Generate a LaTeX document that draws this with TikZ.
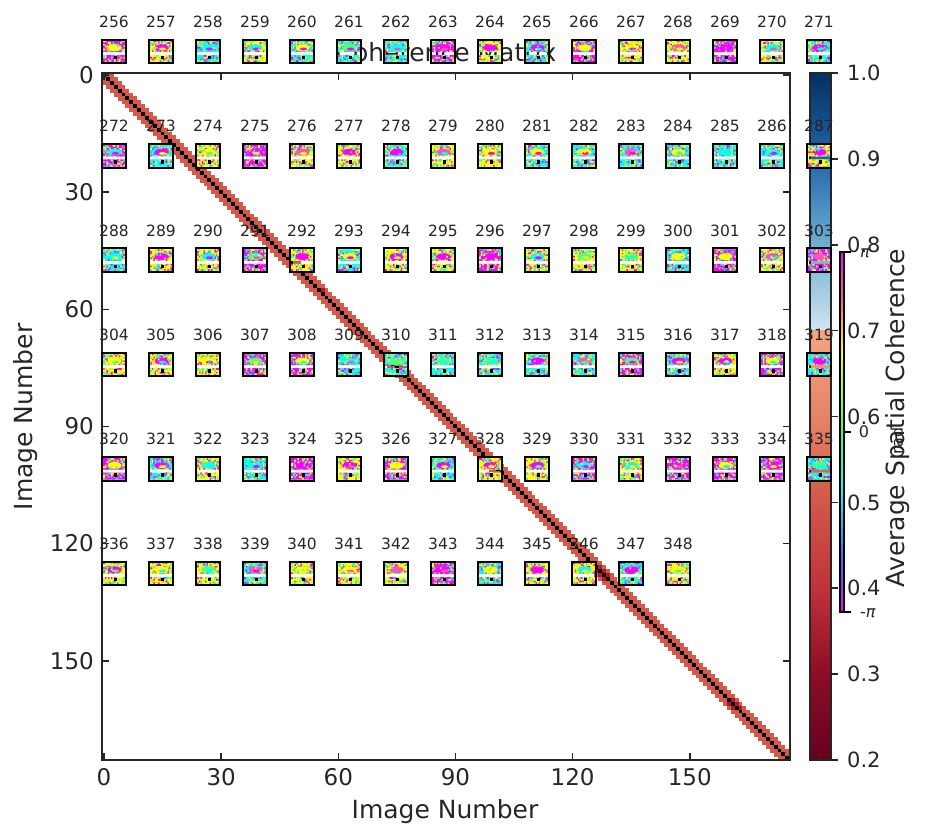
\documentclass[tikz,border=0pt]{standalone}
\usepackage{fontspec}
\setmainfont{DejaVu Sans}
\usepackage{tikz}
\definecolor{ink}{HTML}{262626}
\definecolor{cohred}{HTML}{D35A4A}
\definecolor{cohdark}{HTML}{B2182B}
\definecolor{hmagenta}{HTML}{FF00FF}
\definecolor{hcyan}{HTML}{00FFFF}
\definecolor{hyellow}{HTML}{FFFF00}
\definecolor{hpink}{HTML}{FF50C0}
\definecolor{hgreen}{HTML}{50FF80}
\definecolor{hblue}{HTML}{6070FF}
\pgfmathdeclarerandomlist{huelist}{{hmagenta}{hmagenta}{hmagenta}{hcyan}{hyellow}{hyellow}{hpink}{hgreen}}
\pgfmathdeclarerandomlist{baselist}{{hmagenta}{hcyan}{hyellow}}
\tikzset{
  ticktext/.style={font=\fontsize{23}{23}\selectfont, text=ink, inner sep=0pt},
  bartext/.style={font=\fontsize{21}{21}\selectfont, text=ink, inner sep=0pt},
  axistext/.style={font=\fontsize{25}{25}\selectfont, text=ink, inner sep=0pt},
  thumbtext/.style={font=\fontsize{15.5}{15.5}\selectfont, text=ink, inner sep=0pt},
  phasetext/.style={font=\fontsize{16}{16}\selectfont, text=ink, inner sep=0pt},
  axisline/.style={draw=ink, line width=2pt},
  tickline/.style={draw=ink, line width=1.6pt}
}
% scattered cells of one hue, above and below the gap
\newcommand{\huecells}[3]{
  \fill[#1] \foreach \k in {1,...,#2}{
    ({-10.8+1.55*random(0,13)},{-10.8+1.64*random(0,6)}) rectangle +(1.55,1.64)
  } \foreach \k in {1,...,#3}{
    ({-10.8+1.55*random(0,13)},{3.7+1.78*random(0,3)}) rectangle +(1.55,1.78)
  };
}
% one small phase picture round its centre
\newcommand{\thumbimg}[2]{
  \begin{scope}[shift={(#1,#2)}]
    \pgfmathrandomitem{\hz}{baselist}
    \fill[\hz] (-10.8,-10.8) rectangle (10.8,0.7) (-10.8,3.7) rectangle (10.8,10.8);
    \huecells{hcyan}{21}{11}
    \huecells{hmagenta}{20}{11}
    \huecells{hyellow}{20}{11}
    \huecells{hpink}{6}{3}
    \huecells{hgreen}{6}{3}
    \huecells{hblue}{4}{2}
    \pgfmathrandomitem{\ha}{huelist}
    \pgfmathrandomitem{\hb}{huelist}
    \fill[\ha] (0.5,-3.5) ellipse (7 and 3.4);
    \fill[\hb] (1.5,-2.3) ellipse (3.6 and 1.5);
    \huecells{hcyan}{4}{0}
    \huecells{hyellow}{4}{0}
    \fill[black] (-0.2,4.5) rectangle +(3.6,3.6);
    \draw[black, line width=2pt] (-11.8,-11.8) rectangle (11.8,11.8);
  \end{scope}
}
\begin{document}
\begin{tikzpicture}[x=1pt, y=-1pt]
  \useasboundingbox (0,0) rectangle (925,839);
  \node[font=\fontsize{25}{25}\selectfont, text=ink, inner sep=0pt] (title) at (446,52) {Coherence Matrix};
  % matrix
  \begin{scope}
    \clip (102,73) rectangle (790,760);
    \foreach \i in {0,...,175}{
      \fill[cohred] ({102+3.905*(\i-2)},{73+3.905*\i}) rectangle +({5*3.905},4.1);
    }
    \foreach \c/\r in {127/126,126/127,128/127,127/128,129/128,128/129,56/55,162/161,163/162,161/160,160/161,161/162}{
      \fill[cohdark] ({102+3.905*\c},{73+3.905*\r}) rectangle +(3.905,3.905);
    }
    \foreach \i in {0,...,175}{
      \fill[black] ({102+3.905*\i},{73+3.905*\i}) rectangle +(3.905,3.905);
    }
  \end{scope}
  \draw[axisline] (102,73) rectangle (790,760);
  \foreach \t in {0,30,60,90,120,150}{
    \draw[tickline] ({104+3.905*\t},760) -- ++(0,-7);
    \draw[tickline] ({104+3.905*\t},73) -- ++(0,7);
    \draw[tickline] (102,{75+3.905*\t}) -- ++(7,0);
    \draw[tickline] (790,{75+3.905*\t}) -- ++(-7,0);
    \node[ticktext, anchor=north] (xt\t) at ({104+3.905*\t},768) {\t};
    \node[ticktext, anchor=east] (yt\t) at (94,{75+3.905*\t}) {\t};
  }
  \node[axistext] (xlabel) at (445,812) {Image Number};
  \node[axistext, rotate=90] (ylabel) at (26,417) {Image Number};
  % colour bar
  \foreach \ya/\yb/\ca/\cb in {
    73/159/053061/2166AC,
    159/245/2166AC/6FAFD2,
    245/330.5/6FAFD2/D1E5F0,
    330.5/416/F4A582/E58468,
    416/502/E58468/D1584A,
    502/588/D1584A/BF333A,
    588/674/BF333A/8C0D25,
    674/760/8C0D25/67001F}{
    \definecolor{ctop}{HTML}{\ca}
    \definecolor{cbot}{HTML}{\cb}
    \shade[top color=ctop, bottom color=cbot] (810,\ya) rectangle (831,\yb);
  }
  \draw[axisline] (810,73) rectangle (831,760);
  \foreach \v in {2,...,9}{
    \pgfmathsetmacro{\cy}{760-85.875*(\v-2)}
    \draw[tickline] (831,\cy) -- ++(7,0);
    \node[bartext, anchor=west] (cb\v) at (847,\cy) {0.\v};
  }
  \draw[tickline] (831,73) -- ++(7,0);
  \node[bartext, anchor=west] (cb10) at (847,73) {1.0};
  \node[axistext, rotate=90] (cblabel) at (898,418) {Average Spatial Coherence};
  % phase bar
  \foreach \ya/\yb/\ca/\cb in {
    252/300/FF00FF/FF6080,
    300/350/FF6080/FFFF00,
    350/430/FFFF00/40FF70,
    430/490/40FF70/00FFFF,
    490/560/00FFFF/5060FF,
    560/612/5060FF/FF00FF}{
    \definecolor{ctop}{HTML}{\ca}
    \definecolor{cbot}{HTML}{\cb}
    \shade[top color=ctop, bottom color=cbot] (840,\ya) rectangle (844,\yb);
  }
  \draw[draw=black, line width=1.2pt] (840,252) rectangle (844,612);
  \foreach \cy in {252,432,612}{
    \draw[draw=black, line width=1.2pt] (844,\cy) -- ++(7,0);
  }
  \node[phasetext] (pitop) at (865,253) {\textit{π}};
  \node[phasetext] (pizero) at (864,432) {0};
  \node[phasetext] (pibot) at (868,613) {-\textit{π}};
  \node[phasetext, rotate=90] (radlabel) at (897,441) {rad};
  % small pictures
  \pgfmathsetseed{348}
  \foreach \n in {256,...,348}{
    \pgfmathtruncatemacro{\col}{mod(\n-256,16)}
    \pgfmathtruncatemacro{\row}{floor((\n-256)/16)}
    \pgfmathsetmacro{\cx}{114+47*\col}
    \pgfmathsetmacro{\cy}{51.3+104.4*\row}
    \thumbimg{\cx}{\cy}
    \node[thumbtext] (lab\n) at (\cx,\cy-29.6) {\n};
  }
\end{tikzpicture}
\end{document}
